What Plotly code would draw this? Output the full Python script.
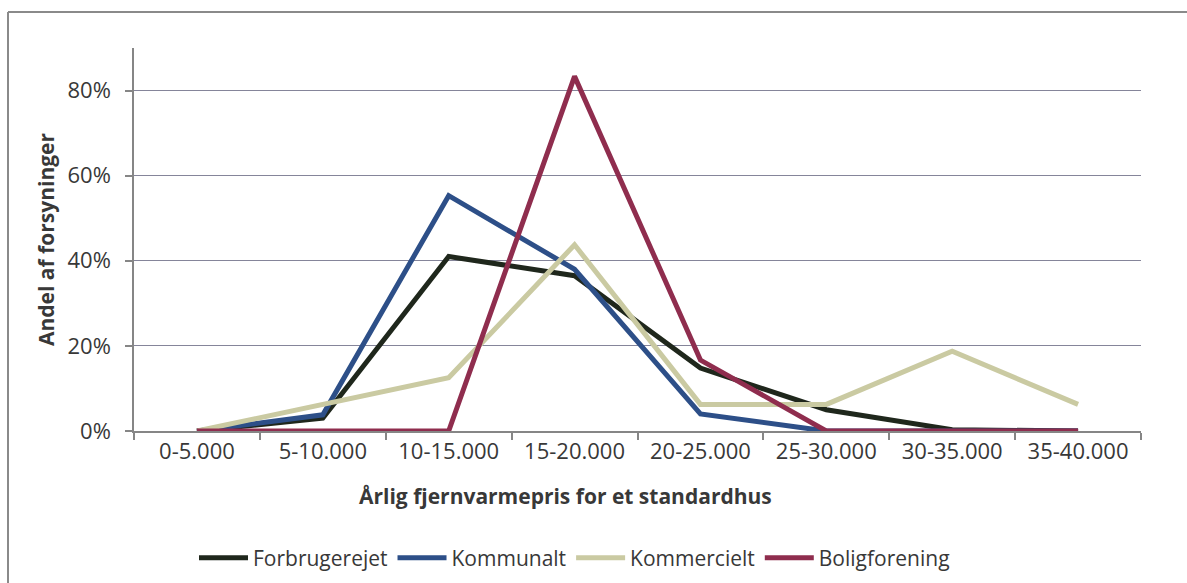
import plotly.graph_objects as go

# Price bands (DKK per year for a standard house)
categories = ["0-5.000", "5-10.000", "10-15.000", "15-20.000",
              "20-25.000", "25-30.000", "30-35.000", "35-40.000"]

# Share of utilities in each price band, by ownership type
forbrugerejet = [0.0, 0.03, 0.41, 0.365, 0.148, 0.05, 0.003, 0.0]
kommunalt = [0.0, 0.038, 0.553, 0.38, 0.04, 0.0, 0.0, 0.0]
kommercielt = [0.0, 0.0625, 0.125, 0.4375, 0.0625, 0.0625, 0.1875, 0.0625]
boligforening = [0.0, 0.0, 0.0, 0.8333, 0.1667, 0.0, 0.0, 0.0]

series = [
    ("Forbrugerejet", forbrugerejet, "#1f271c"),
    ("Kommunalt", kommunalt, "#2d4f88"),
    ("Kommercielt", kommercielt, "#cacaa2"),
    ("Boligforening", boligforening, "#8f2d4e"),
]

FONT = "Open Sans"
TXT = "#383838"

fig = go.Figure()
for name, vals, col in series:
    fig.add_trace(go.Scatter(
        x=categories, y=vals, name=name, mode="lines",
        line=dict(color=col, width=5),
    ))

W, H = 1187, 583
L, R, T, B = 134, 46, 48, 152
pw = W - L - R
ph = H - T - B


def px(x):
    return (x - L) / pw


def py(y):
    return (H - B - y) / ph


fig.update_layout(
    width=W, height=H,
    margin=dict(l=L, r=R, t=T, b=B, autoexpand=False),
    paper_bgcolor="white", plot_bgcolor="white",
    font=dict(family=FONT, size=22, color=TXT),
    showlegend=True,
    legend=dict(
        orientation="h", x=px(194), y=py(558),
        xanchor="left", yanchor="middle",
        font=dict(family=FONT, size=21, color=TXT),
        itemwidth=49, tracegroupgap=0,
        bgcolor="rgba(0,0,0,0)",
    ),
    xaxis=dict(
        type="category", range=[-0.5, 7.5], automargin=False,
        showgrid=False, zeroline=False,
        showline=True, linecolor="#868686", linewidth=1.5,
        ticks="outside", tickson="boundaries", ticklen=7,
        tickcolor="#868686", tickwidth=1.5,
        tickfont=dict(family=FONT, size=22, color=TXT),
    ),
    yaxis=dict(
        range=[0, 0.9], tickvals=[0, 0.2, 0.4, 0.6, 0.8],
        tickformat=".0%", automargin=False,
        showgrid=True, gridcolor="#85859a", gridwidth=1.2,
        zeroline=False,
        showline=True, linecolor="#868686", linewidth=1.5,
        ticks="outside", ticklen=7, tickcolor="#868686", tickwidth=1.5,
        tickfont=dict(family=FONT, size=22, color=TXT),
        ticklabelstandoff=10,
    ),
    annotations=[
        dict(text="<b>Andel af forsyninger</b>", xref="paper", yref="paper",
             x=px(46), y=py(240), showarrow=False, textangle=-90,
             xanchor="center", yanchor="middle",
             font=dict(family=FONT, size=21, color=TXT)),
        dict(text="<b>Årlig fjernvarmepris for et standardhus</b>",
             xref="paper", yref="paper",
             x=px(565), y=py(496), showarrow=False,
             xanchor="center", yanchor="middle",
             font=dict(family=FONT, size=21, color=TXT)),
    ],
    shapes=[
        dict(type="line", xref="paper", yref="paper",
             x0=px(8), x1=px(8), y0=py(590), y1=py(12),
             line=dict(color="#8a8a8a", width=2)),
        dict(type="line", xref="paper", yref="paper",
             x0=px(8), x1=px(1195), y0=py(12), y1=py(12),
             line=dict(color="#8a8a8a", width=2)),
    ],
)

fig.write_html("out.html")
